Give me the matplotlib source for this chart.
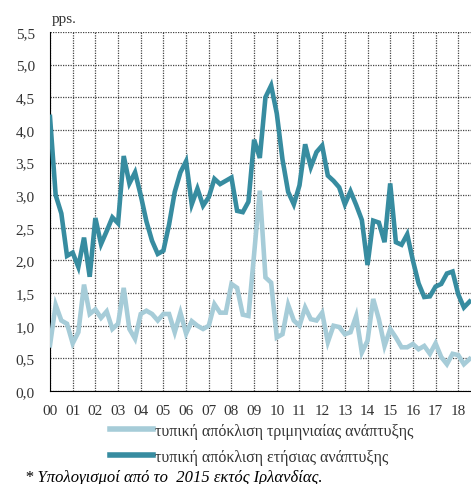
import matplotlib
matplotlib.use("Agg")
import matplotlib.pyplot as plt
import numpy as np

# quarterly data 2000Q1 - 2018Q3
years = ["00", "01", "02", "03", "04", "05", "06", "07", "08", "09",
         "10", "11", "12", "13", "14", "15", "16", "17", "18"]

quarterly_sd = [0.70, 1.32, 1.08, 1.03, 0.73, 0.90, 1.63, 1.18, 1.25, 1.12,
                1.22, 0.95, 1.03, 1.58, 0.95, 0.80, 1.18, 1.23, 1.18, 1.08,
                1.18, 1.18, 0.90, 1.20, 0.88, 1.07, 1.00, 0.95, 1.00, 1.33,
                1.20, 1.20, 1.64, 1.58, 1.17, 1.15, 2.10, 3.07, 1.74, 1.66,
                0.82, 0.87, 1.32, 1.08, 1.00, 1.28, 1.10, 1.08, 1.20, 0.75,
                1.00, 0.98, 0.87, 0.90, 1.15, 0.59, 0.77, 1.41, 1.10, 0.69,
                0.95, 0.82, 0.67, 0.67, 0.72, 0.64, 0.69, 0.57, 0.73, 0.52,
                0.41, 0.57, 0.55, 0.41, 0.49]

annual_sd = [4.20, 3.00, 2.72, 2.07, 2.12, 1.90, 2.35, 1.75, 2.65, 2.25,
             2.45, 2.66, 2.57, 3.60, 3.18, 3.35, 3.00, 2.60, 2.30, 2.10,
             2.15, 2.55, 3.05, 3.35, 3.52, 2.86, 3.10, 2.84, 2.97, 3.25,
             3.17, 3.22, 3.27, 2.76, 2.74, 2.90, 3.85, 3.57, 4.50, 4.68,
             4.25, 3.55, 3.05, 2.86, 3.15, 3.78, 3.43, 3.66, 3.76, 3.30,
             3.22, 3.12, 2.86, 3.06, 2.85, 2.62, 1.93, 2.61, 2.58, 2.28,
             3.18, 2.28, 2.24, 2.40, 2.00, 1.65, 1.44, 1.45, 1.60, 1.64,
             1.80, 1.83, 1.48, 1.28, 1.37]

label_q = "τυπική απόκλιση τριμηνιαίας ανάπτυξης"
label_a = "τυπική απόκλιση ετήσιας ανάπτυξης"
note = "* Υπολογισμοί από το  2015 εκτός Ιρλανδίας."

light = "#A6CCD8"
dark = "#378CA0"

plt.rcParams["font.family"] = ["Liberation Serif", "DejaVu Serif"]

fig = plt.figure(figsize=(4.71, 4.85), dpi=100)
ax = fig.add_axes([50 / 471, 93 / 485, 1 - 50 / 471, 359 / 485])

x = np.arange(len(quarterly_sd))
l1, = ax.plot(x, quarterly_sd, color=light, lw=3.3, solid_joinstyle="miter", zorder=3)
l2, = ax.plot(np.arange(len(annual_sd)), annual_sd, color=dark, lw=3.3,
              solid_joinstyle="miter", zorder=4)

ax.set_xlim(0, 74.25)
ax.set_ylim(0, 5.5)
ax.set_yticks(np.arange(0, 5.51, 0.5))
ax.set_yticklabels([f"{v:.1f}".replace(".", ",") for v in np.arange(0, 5.51, 0.5)])
ax.set_xticks(np.arange(0, 73, 4))
ax.set_xticklabels(years)
ax.tick_params(length=0, labelsize=11, colors="#333333")
ax.tick_params(axis="y", pad=11)
ax.tick_params(axis="x", pad=9.5)

ax.grid(True, color="#444444", lw=0.9, linestyle=(0, (1, 1)))
ax.set_axisbelow(True)
for s in ["top", "right"]:
    ax.spines[s].set_visible(False)
ax.spines["left"].set_color("black")
ax.spines["bottom"].set_color("black")

fig.text(52 / 471, 1 - 20 / 485, "pps.", fontsize=11, color="#333333", va="center")

fig.legend([l1, l2], [label_q, label_a], loc="upper left",
           bbox_to_anchor=(110 / 471, 1 - 424 / 485), frameon=False,
           fontsize=11.5, handlelength=2.7, handletextpad=0.1,
           labelspacing=0.6, borderpad=0, borderaxespad=0,
           labelcolor="#333333")
for h in fig.legends[0].legend_handles:
    h.set_linewidth(4)

fig.text(25 / 471, 1 - 478 / 485, note, fontsize=12, style="italic",
         color="black", va="center")

fig.savefig("out.png", dpi=100)
